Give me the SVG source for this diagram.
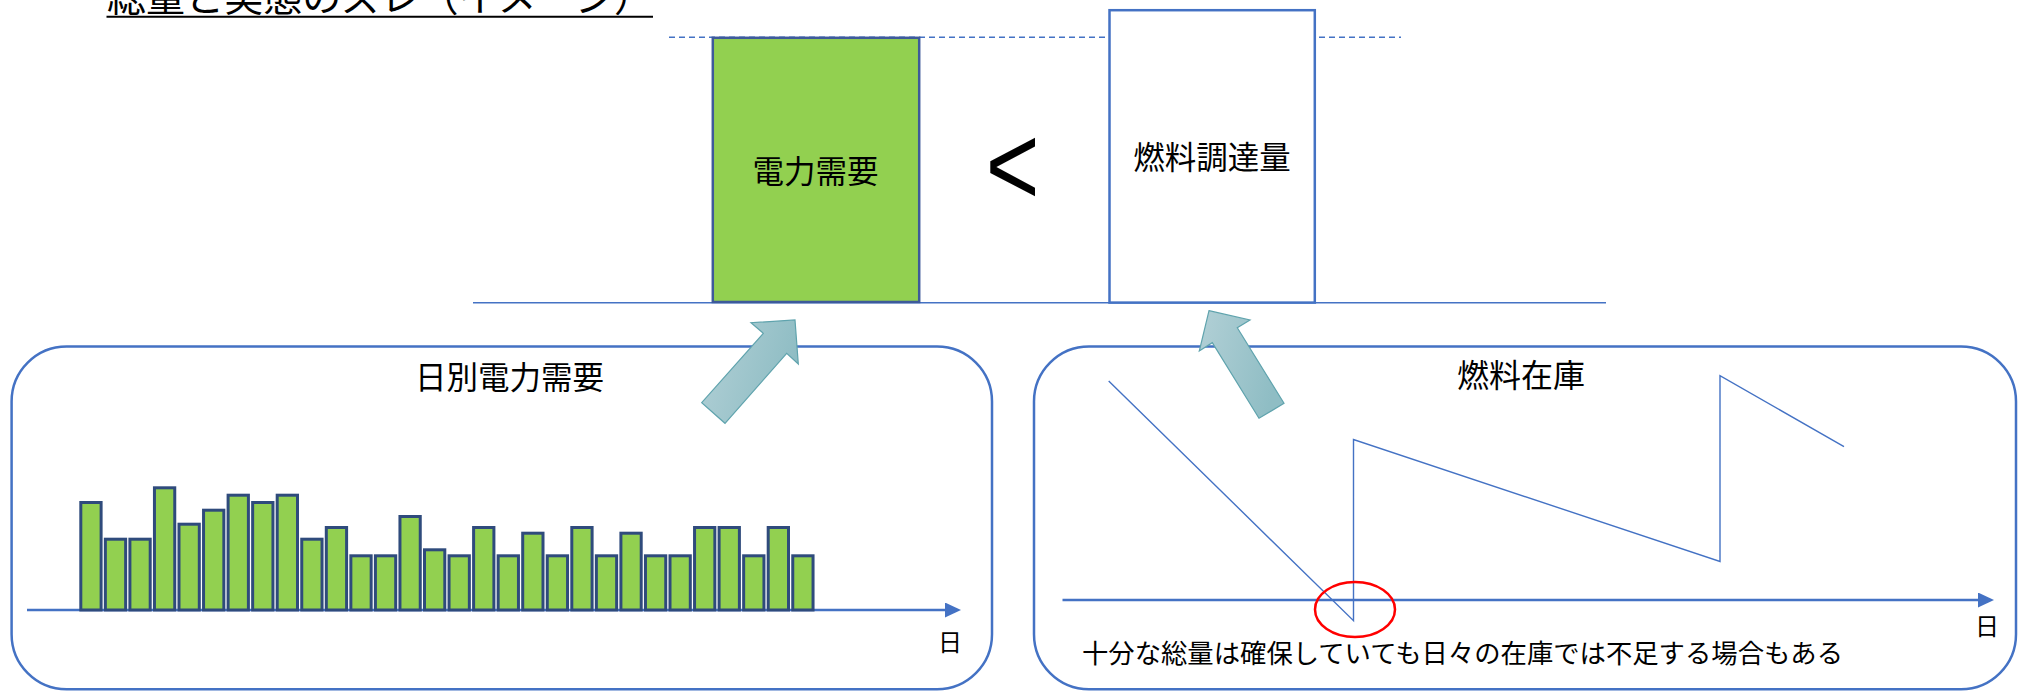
<svg xmlns="http://www.w3.org/2000/svg" width="2028" height="691" viewBox="0 0 2028 691">
<style>
.jp{font-family:"Liberation Sans","Noto Sans CJK JP",sans-serif;fill:#000}
.panel{fill:none;stroke:#4472C4;stroke-width:2.5}
.bar{fill:#92D050;stroke:#2F4B7C;stroke-width:3}
.axis{stroke:#4472C4;stroke-width:2.5;fill:none}
.thin{stroke:#4472C4;stroke-width:1.4;fill:none}
.blk{fill:url(#bg);stroke:#5FA3AD;stroke-width:1.2}
</style>
<defs>
<linearGradient id="bg" x1="0" y1="0" x2="1" y2="0.3">
<stop offset="0" stop-color="#B2D0D6"/>
<stop offset="1" stop-color="#8FBDC4"/>
</linearGradient>
<marker id="ah" viewBox="0 0 16 15" refX="4" refY="7.5" markerWidth="16" markerHeight="15" markerUnits="userSpaceOnUse" orient="auto">
<path d="M0,0 L16,7.5 L0,15 z" fill="#4472C4"/>
</marker>
</defs>
<rect width="2028" height="691" fill="#fff"/>

<g id="title">
<text class="jp" x="107" y="10.5" font-size="39" textLength="546" lengthAdjust="spacingAndGlyphs">総量と実態のズレ（イメージ）</text>
<line x1="106.5" y1="16.7" x2="653" y2="16.7" stroke="#000" stroke-width="2"/>
</g>

<g id="guides">
<line x1="669" y1="37.3" x2="1401" y2="37.3" stroke="#4472C4" stroke-width="1.5" stroke-dasharray="6,4"/>
<line x1="473" y1="302.7" x2="1606" y2="302.7" class="thin"/>
</g>

<g id="demand-total">
<rect x="712.8" y="37.8" width="206.4" height="264.2" fill="#92D050" stroke="#3E5A9A" stroke-width="2.5"/>
<text class="jp" x="815.5" y="183" font-size="31.5" text-anchor="middle">電力需要</text>
</g>

<g id="less-than">
<text x="1012.5" y="205" font-size="115" text-anchor="middle" font-family="'Liberation Sans',sans-serif" transform="translate(1012.5,0) scale(0.8,1) translate(-1012.5,0)">&lt;</text>
</g>

<g id="fuel-total">
<rect x="1109.5" y="10.2" width="205.3" height="292.4" fill="#fff" stroke="#4472C4" stroke-width="2.5"/>
<text class="jp" x="1212" y="169" font-size="31.5" text-anchor="middle">燃料調達量</text>
</g>

<g id="daily-demand">
<rect class="panel" x="11.6" y="346.6" width="980.4" height="342.6" rx="55" ry="55"/>
<text class="jp" x="509.5" y="388.5" font-size="31.5" text-anchor="middle">日別電力需要</text>
<line class="axis" x1="27" y1="610" x2="949" y2="610" marker-end="url(#ah)"/>
<g id="bars">
<rect class="bar" x="80.8" y="502.5" width="20.3" height="107.5"/>
<rect class="bar" x="105.35" y="539.2" width="20.3" height="70.8"/>
<rect class="bar" x="129.9" y="539.2" width="20.3" height="70.8"/>
<rect class="bar" x="154.45" y="487.8" width="20.3" height="122.2"/>
<rect class="bar" x="179" y="524.2" width="20.3" height="85.8"/>
<rect class="bar" x="203.55" y="510.2" width="20.3" height="99.8"/>
<rect class="bar" x="228.1" y="495.2" width="20.3" height="114.8"/>
<rect class="bar" x="252.65" y="502.5" width="20.3" height="107.5"/>
<rect class="bar" x="277.2" y="495.2" width="20.3" height="114.8"/>
<rect class="bar" x="301.75" y="539.2" width="20.3" height="70.8"/>
<rect class="bar" x="326.3" y="527.5" width="20.3" height="82.5"/>
<rect class="bar" x="350.85" y="555.8" width="20.3" height="54.2"/>
<rect class="bar" x="375.4" y="555.8" width="20.3" height="54.2"/>
<rect class="bar" x="399.95" y="516.5" width="20.3" height="93.5"/>
<rect class="bar" x="424.5" y="549.8" width="20.3" height="60.2"/>
<rect class="bar" x="449.05" y="555.8" width="20.3" height="54.2"/>
<rect class="bar" x="473.6" y="527.5" width="20.3" height="82.5"/>
<rect class="bar" x="498.15" y="555.8" width="20.3" height="54.2"/>
<rect class="bar" x="522.7" y="533.2" width="20.3" height="76.8"/>
<rect class="bar" x="547.25" y="555.8" width="20.3" height="54.2"/>
<rect class="bar" x="571.8" y="527.5" width="20.3" height="82.5"/>
<rect class="bar" x="596.35" y="555.8" width="20.3" height="54.2"/>
<rect class="bar" x="620.9" y="533.2" width="20.3" height="76.8"/>
<rect class="bar" x="645.45" y="555.8" width="20.3" height="54.2"/>
<rect class="bar" x="670" y="555.8" width="20.3" height="54.2"/>
<rect class="bar" x="694.55" y="527.5" width="20.3" height="82.5"/>
<rect class="bar" x="719.1" y="527.5" width="20.3" height="82.5"/>
<rect class="bar" x="743.65" y="555.8" width="20.3" height="54.2"/>
<rect class="bar" x="768.2" y="527.5" width="20.3" height="82.5"/>
<rect class="bar" x="792.75" y="555.8" width="20.3" height="54.2"/>
</g>
<text class="jp" x="950" y="651" font-size="24" text-anchor="middle">日</text>
</g>

<g id="fuel-stock">
<rect class="panel" x="1034" y="346.6" width="982" height="342.6" rx="55" ry="55"/>
<text class="jp" x="1521" y="387" font-size="32" text-anchor="middle">燃料在庫</text>
<line class="axis" x1="1062.5" y1="600" x2="1982" y2="600" marker-end="url(#ah)"/>
<polyline class="thin" points="1108.7,381 1353.5,620.7 1353.5,439.5 1720,561.5 1720,375.7 1844,446.7"/>
<ellipse cx="1355" cy="609.5" rx="40" ry="27.5" fill="none" stroke="#FF0000" stroke-width="2.5"/>
<text class="jp" x="1987" y="635" font-size="24" text-anchor="middle">日</text>
<text class="jp" x="1082" y="662.5" font-size="26.2" textLength="761" lengthAdjust="spacingAndGlyphs">十分な総量は確保していても日々の在庫では不足する場合もある</text>
</g>

<g id="connectors">
<polygon class="blk" points="795,320 798.3,364 786.7,353.3 725,423.3 701.7,402.7 763.3,333.3 751,322.7"/>
<polygon class="blk" points="1209,310.7 1250,320 1237.3,327.7 1284,403.3 1259,418.3 1212.3,342.7 1199.3,351"/>
</g>
</svg>
